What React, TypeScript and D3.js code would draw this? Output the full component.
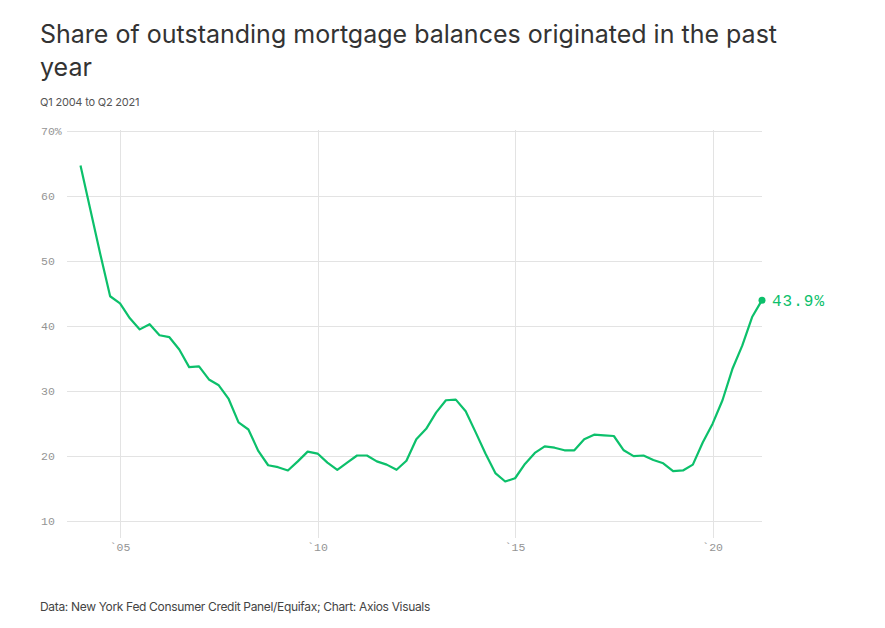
import { useEffect, useRef } from "react";
import * as d3 from "d3";

// quarterly share (%), Q1 2004 .. Q2 2021
const shares = [
  64.6, 57.8, 51.0, 44.5, 43.4, 41.1, 39.4, 40.2, 38.5, 38.2,
  36.3, 33.6, 33.7, 31.7, 30.8, 28.7, 25.1, 24.0, 20.7, 18.5,
  18.2, 17.7, 19.1, 20.6, 20.3, 18.9, 17.8, 18.9, 20.0, 20.0,
  19.1, 18.6, 17.8, 19.2, 22.5, 24.1, 26.6, 28.5, 28.6, 26.8,
  23.6, 20.3, 17.3, 16.0, 16.5, 18.7, 20.4, 21.4, 21.2, 20.8,
  20.8, 22.5, 23.2, 23.1, 23.0, 20.8, 19.9, 20.0, 19.3, 18.8,
  17.6, 17.7, 18.6, 22.0, 24.9, 28.5, 33.3, 36.9, 41.3, 43.9,
];
const startYear = 2004;
const yTicks = [10, 20, 30, 40, 50, 60, 70];
const xTicks = [2005, 2010, 2015, 2020];

const title = ["Share of outstanding mortgage balances originated in the past", "year"];
const subtitle = "Q1 2004 to Q2 2021";
const source = "Data: New York Fed Consumer Credit Panel/Equifax; Chart: Axios Visuals";

const W = 885;
const H = 628;
const green = "#0cc06b";
const mono = "'Liberation Mono', 'DejaVu Sans Mono', monospace";
const sans = "Inter, 'Noto Sans', sans-serif";

export default function App() {
  const svgRef = useRef<SVGSVGElement | null>(null);

  useEffect(() => {
    document.body.style.margin = "0";
    const svg = d3.select(svgRef.current);
    svg.selectAll("*").remove();

    const data = shares.map((v, i) => ({ t: startYear + i / 4, v }));

    const x = d3.scaleLinear().domain([2004, 2021.25]).range([80.5, 762]);
    const y = d3.scaleLinear().domain([10, 70]).range([520.5, 130.5]);

    // headings
    svg.append("g")
      .selectAll("text")
      .data(title)
      .join("text")
      .attr("x", 40)
      .attr("y", (_, i) => 43 + i * 33)
      .attr("fill", "#333")
      .style("font-family", sans)
      .style("font-size", "25px")
      .style("letter-spacing", "0px")
      .text((d) => d);

    svg.append("text")
      .attr("x", 40).attr("y", 106)
      .attr("fill", "#555")
      .style("font-family", sans)
      .style("font-size", "11px")
      .style("letter-spacing", "-0.2px")
      .text(subtitle);

    svg.append("text")
      .attr("x", 40).attr("y", 611)
      .attr("fill", "#444")
      .style("font-family", sans)
      .style("font-size", "12px")
      .style("letter-spacing", "-0.33px")
      .text(source);

    // grid
    const grid = svg.append("g").attr("stroke", "#e3e3e3").attr("stroke-width", 1);
    grid.selectAll("line.h")
      .data(yTicks)
      .join("line")
      .attr("class", "h")
      .attr("x1", 67).attr("x2", 762)
      .attr("y1", (d) => Math.round(y(d)) + 0.5)
      .attr("y2", (d) => Math.round(y(d)) + 0.5);
    grid.selectAll("line.v")
      .data(xTicks)
      .join("line")
      .attr("class", "v")
      .attr("x1", (d) => Math.round(x(d)) + 0.5)
      .attr("x2", (d) => Math.round(x(d)) + 0.5)
      .attr("y1", 130).attr("y2", 538);

    // y labels
    svg.append("g")
      .selectAll("text")
      .data(yTicks)
      .join("text")
      .attr("x", 41)
      .attr("y", (d) => y(d))
      .attr("dy", "0.35em")
      .attr("fill", "#949494")
      .style("font-family", mono)
      .style("font-size", "11.5px")
      .text((d) => (d === 70 ? `${d}%` : `${d}`));

    // x labels
    svg.append("g")
      .selectAll("text")
      .data(xTicks)
      .join("text")
      .attr("x", (d) => x(d))
      .attr("y", 551)
      .attr("text-anchor", "middle")
      .attr("fill", "#949494")
      .style("font-family", mono)
      .style("font-size", "11.5px")
      .text((d) => "`" + String(d).slice(2));

    // line
    const line = d3.line<{ t: number; v: number }>()
      .x((d) => x(d.t))
      .y((d) => y(d.v));

    svg.append("path")
      .datum(data)
      .attr("d", line)
      .attr("fill", "none")
      .attr("stroke", green)
      .attr("stroke-width", 2.2)
      .attr("stroke-linejoin", "round");

    const last = data[data.length - 1];
    svg.append("circle")
      .attr("cx", x(last.t)).attr("cy", y(last.v))
      .attr("r", 3.5)
      .attr("fill", green);

    svg.append("text")
      .attr("x", x(last.t) + 10)
      .attr("y", y(last.v))
      .attr("dy", "0.35em")
      .attr("fill", green)
      .style("font-family", mono)
      .style("font-size", "16px")
      .style("letter-spacing", "1px")
      .text(`${last.v.toFixed(1)}%`);
  }, []);

  return <svg ref={svgRef} width={W} height={H} style={{ display: "block", background: "#fff" }} />;
}
